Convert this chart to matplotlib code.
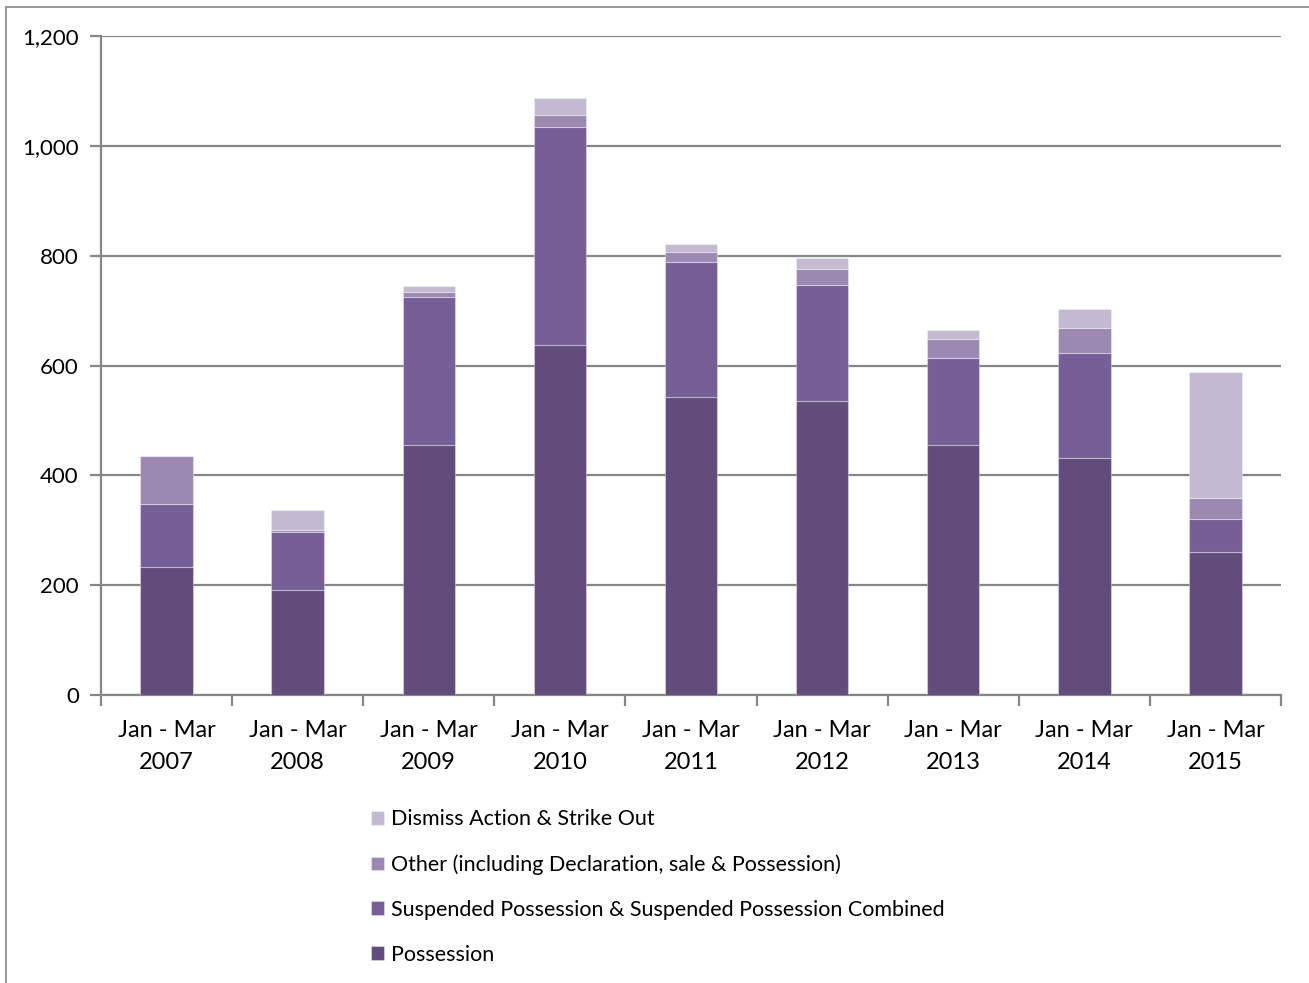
import numpy as np
import matplotlib.pyplot as plt
from matplotlib.lines import Line2D
from matplotlib.ticker import FuncFormatter

plt.rcParams['font.family'] = ['Lato', 'DejaVu Sans']

years = ['2007', '2008', '2009', '2010', '2011', '2012', '2013', '2014', '2015']
labels = ['Jan - Mar\n' + y for y in years]

possession = [233, 191, 455, 637, 543, 535, 455, 432, 260]
suspended = [115, 106, 270, 397, 246, 212, 158, 191, 60]
other = [87, 3, 9, 22, 18, 29, 35, 46, 39]
dismiss = [0, 37, 11, 31, 14, 20, 17, 34, 229]

series = [
    ('Possession', possession, '#624c7c'),
    ('Suspended Possession & Suspended Possession Combined', suspended, '#765e96'),
    ('Other (including Declaration, sale & Possession)', other, '#9c89b0'),
    ('Dismiss Action & Strike Out', dismiss, '#c3b9d1'),
]

fig = plt.figure(figsize=(13.09, 9.83), dpi=100)
ax = fig.add_axes([101 / 1309, 288 / 983, 1180 / 1309, 659 / 983])

x = np.arange(len(years))
bottom = np.zeros(len(years))
handles = []
for name, vals, col in series:
    b = ax.bar(x, vals, 0.4, bottom=bottom, color=col, label=name,
               edgecolor=(1, 1, 1, 0.35), linewidth=0.8, zorder=3)
    handles.append(b)
    bottom += np.array(vals)

ax.set_ylim(0, 1200)
ax.set_xlim(-0.5, len(years) - 0.5)
ax.set_yticks(np.arange(0, 1201, 200))
ax.yaxis.set_major_formatter(FuncFormatter(lambda v, p: f'{int(v):,}'))
ax.yaxis.grid(True, color='#868686', linewidth=1.6, zorder=0)
ax.set_axisbelow(True)

ax.set_xticks(x)
ax.set_xticklabels(labels, fontsize=17, linespacing=1.65)
ax.set_xticks(np.arange(-0.5, len(years)), minor=True)
ax.tick_params(axis='x', which='major', length=0, pad=18)
ax.tick_params(axis='x', which='minor', length=8, width=1.6, color='#868686')
ax.tick_params(axis='y', length=8, width=1.6, color='#868686', labelsize=16, pad=8)

for s in ['top', 'right']:
    ax.spines[s].set_visible(False)
for s in ['left', 'bottom']:
    ax.spines[s].set_color('#868686')
    ax.spines[s].set_linewidth(1.6)

leg = fig.legend(handles=handles[::-1], loc='upper left',
                 bbox_to_anchor=(352 / 1309, 1 - 790 / 983), frameon=False,
                 fontsize=15.5, handlelength=0.6, handleheight=0.6,
                 handletextpad=0.3, labelspacing=1.16)

# outer chart frame
fig.add_artist(Line2D([6 / 1309, 6 / 1309], [0, 1 - 7 / 983], color='#868686', lw=1.2))
fig.add_artist(Line2D([6 / 1309, 1], [1 - 7 / 983, 1 - 7 / 983], color='#868686', lw=1.2))

fig.savefig('out.png', dpi=100)
